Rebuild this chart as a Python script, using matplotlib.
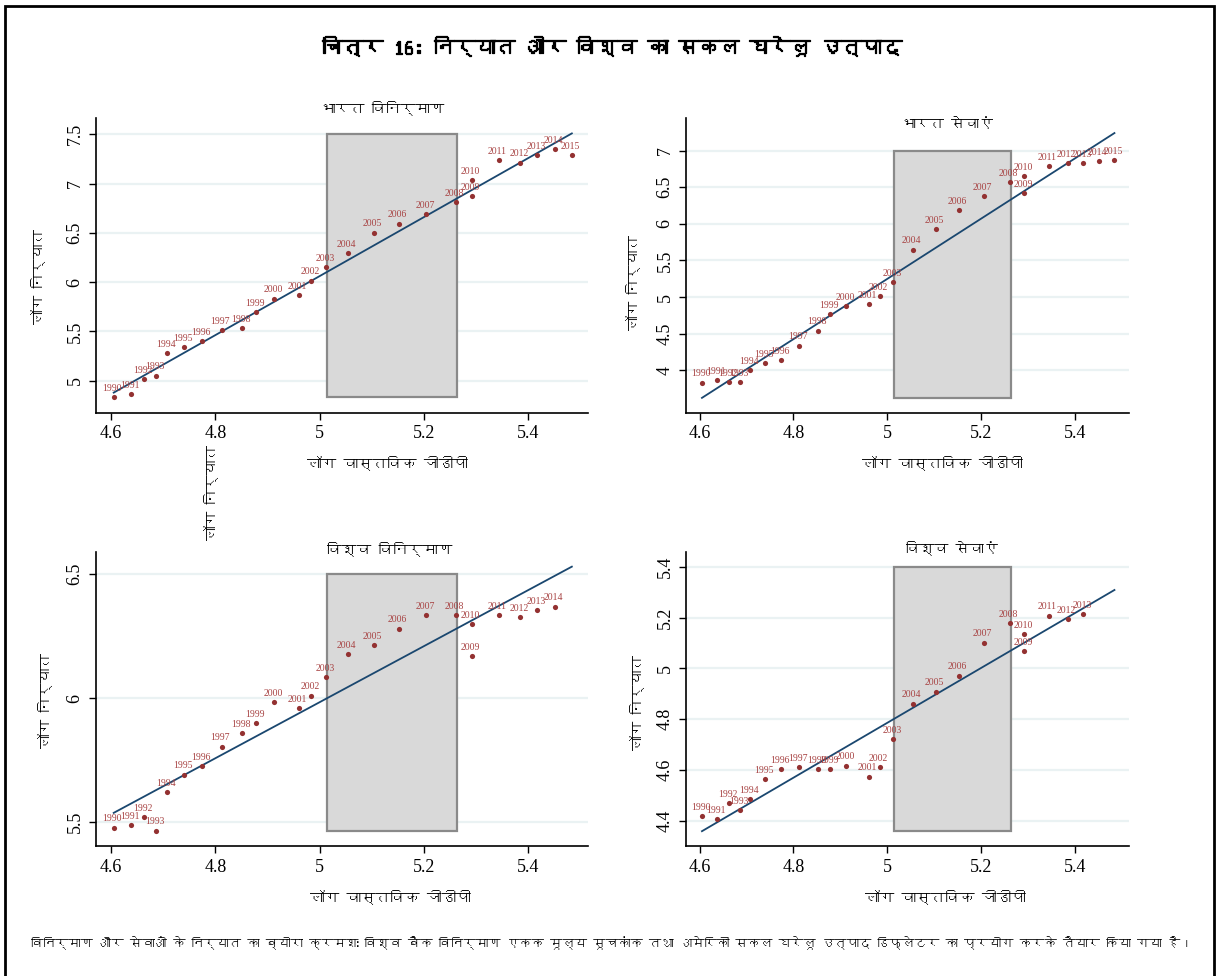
import numpy as np
import matplotlib
matplotlib.use("Agg")
import matplotlib.pyplot as plt
import matplotlib.patheffects as pe
from matplotlib import font_manager
from matplotlib.ft2font import FT2Font
from matplotlib.patches import Rectangle

# data
years = list(range(1990, 2016))
log_gdp = [4.605, 4.638, 4.663, 4.686, 4.708, 4.740, 4.774, 4.812, 4.852, 4.878,
           4.913, 4.960, 4.984, 5.013, 5.054, 5.104, 5.152, 5.205, 5.261, 5.292,
           5.292, 5.344, 5.385, 5.418, 5.451, 5.484]
india_mfg = [4.834, 4.865, 5.014, 5.051, 5.284, 5.342, 5.399, 5.511, 5.534, 5.697,
             5.832, 5.869, 6.015, 6.154, 6.292, 6.502, 6.593, 6.688, 6.813, 6.874,
             7.037, 7.240, 7.212, 7.287, 7.348, 7.287]
india_srv = [3.831, 3.863, 3.836, 3.840, 4.000, 4.096, 4.137, 4.338, 4.543, 4.763,
             4.877, 4.900, 5.014, 5.205, 5.648, 5.932, 6.192, 6.384, 6.571, 6.425,
             6.648, 6.790, 6.826, 6.831, 6.863, 6.868]
world_mfg = [5.478, 5.487, 5.522, 5.466, 5.623, 5.692, 5.728, 5.805, 5.861, 5.899,
             5.985, 5.961, 6.011, 6.086, 6.178, 6.214, 6.281, 6.336, 6.336, 6.171,
             6.300, 6.336, 6.327, 6.355, 6.370]
world_srv = [4.421, 4.409, 4.472, 4.442, 4.485, 4.565, 4.605, 4.611, 4.603, 4.603,
             4.618, 4.575, 4.613, 4.723, 4.862, 4.909, 4.972, 5.102, 5.178, 5.067,
             5.134, 5.208, 5.194, 5.215]

panel_titles = ["भारत विनिर्माण", "भारत सेवाएं", "विश्व विनिर्माण", "विश्व सेवाएं"]
panel_series = [india_mfg, india_srv, world_mfg, world_srv]
panel_yticks = [[5, 5.5, 6, 6.5, 7, 7.5], [4, 4.5, 5, 5.5, 6, 6.5, 7],
                [5.5, 6, 6.5], [4.4, 4.6, 4.8, 5, 5.2, 5.4]]
panel_ylims = [(4.672, 7.665), (3.416, 7.447), (5.404, 6.590), (4.302, 5.458)]
shade_x = (5.014, 5.263)
shade_y = [(4.835, 7.5), (3.626, 7.0), (5.464, 6.5), (4.361, 5.4)]
xticks = [4.6, 4.8, 5, 5.2, 5.4]

main_title = "चित्र 16: निर्यात और विश्व का सकल घरेलू उत्पाद"
xlab = "लॉग वास्तविक जीडीपी"
ylab = "लॉग निर्यात"
note = ("विनिर्माण और सेवाओं के निर्यात का ब्योरा क्रमशः विश्व बैंक विनिर्माण एकक मूल्य "
        "सूचकांक तथा अमेरिकी सकल घरेलू उत्पाद डिफ्लेटर का प्रयोग करके तैयार किया गया है।")


def find_devanagari_font():
    names = []
    for f in font_manager.fontManager.ttflist:
        try:
            if 0x0928 in FT2Font(f.fname).get_charmap():
                names.append(f.name)
        except Exception:
            pass
    return names[0] if names else "DejaVu Sans"


deva = find_devanagari_font()
hindi = [deva, "DejaVu Sans"]
serif = ["Liberation Serif", "DejaVu Serif"]

W, H = 1218, 976
fig = plt.figure(figsize=(W / 100, H / 100), dpi=100)


def px(x, y):
    return x / W, 1 - y / H


# axes boxes in pixels: left, top, right, bottom
boxes = [(96, 118, 588, 413), (686, 118, 1129, 413),
         (96, 552, 588, 846), (686, 552, 1129, 846)]
title_pos = [(383, 108), (947, 125), (390, 549), (952, 548)]
title_w = [91, 67, 93, 68]
xlab_pos = [(387, 463), (942, 463), (390, 897), (945, 897)]
ylab_pos = [(38, 276), (633, 282), (45, 700), (637, 703)]

dot_col = "#933131"
lab_col = "#a84444"
line_col = "#1a476f"

fit_list = []  # (text, target width in px, smallest size)

for i in range(4):
    l, t, r, b = boxes[i]
    ax = fig.add_axes([l / W, 1 - b / H, (r - l) / W, (b - t) / H])
    y = np.array(panel_series[i])
    x = np.array(log_gdp[:len(y)])

    for yt in panel_yticks[i]:
        ax.axhline(yt, color="#eaf2f3", lw=1.6, zorder=0)

    ax.add_patch(Rectangle((shade_x[0], shade_y[i][0]), shade_x[1] - shade_x[0],
                           shade_y[i][1] - shade_y[i][0], facecolor="#d9d9d9",
                           edgecolor="#8a8a8a", lw=1.6, zorder=1))

    # linear fit over the full gdp range
    slope, icpt = np.polyfit(x, y, 1)
    xl = np.array([min(log_gdp), max(log_gdp)])
    ax.plot(xl, icpt + slope * xl, color=line_col, lw=1.3, zorder=3)

    ax.scatter(x, y, s=14, color=dot_col, zorder=4, linewidths=0)
    for yr, xv, yv in zip(years, x, y):
        ax.annotate(str(yr), (xv, yv), xytext=(-1, 3), textcoords="offset points",
                    ha="center", va="bottom", fontsize=7, color=lab_col,
                    family=serif, zorder=5)

    ax.set_xlim(4.571, 5.515)
    ax.set_ylim(*panel_ylims[i])
    ax.set_xticks(xticks)
    ax.set_xticklabels(["%g" % v for v in xticks], family=serif, fontsize=13)
    ax.set_yticks(panel_yticks[i])
    ax.set_yticklabels(["%g" % v for v in panel_yticks[i]], family=serif,
                       fontsize=13, rotation=90, va="center")
    ax.tick_params(direction="out", length=5, width=1, color="black", pad=4)
    for s in ["top", "right"]:
        ax.spines[s].set_visible(False)
    for s in ["left", "bottom"]:
        ax.spines[s].set_linewidth(1.2)
    ax.set_facecolor("none")

    tt = fig.text(*px(*title_pos[i]), panel_titles[i], ha="center", va="center",
                  fontsize=13, family=hindi)
    fit_list.append((tt, title_w[i] * 1.35, 10))
    xt = fig.text(*px(*xlab_pos[i]), xlab, ha="center", va="center",
                  fontsize=13, family=hindi)
    fit_list.append((xt, 150, 10.5))
    yt_ = fig.text(*px(*ylab_pos[i]), ylab, ha="center", va="center", rotation=90,
                   fontsize=13, family=hindi)
    fit_list.append((yt_, 85, 10.5))

# stray label between the left panels, as in the source
st = fig.text(*px(211, 492), ylab, ha="center", va="center", rotation=90,
              fontsize=13, family=hindi)
fit_list.append((st, 85, 10.5))

mt = fig.text(*px(612, 46), main_title, ha="center", va="center", fontsize=19,
              fontweight="bold", family=hindi,
              path_effects=[pe.withStroke(linewidth=0.9, foreground="black")])
fit_list.append((mt, 580, 8))
nt = fig.text(*px(612, 943), note, ha="center", va="center", fontsize=12, family=hindi)
fit_list.append((nt, 1160, 6))

# shrink texts that run wider than in the source
fig.canvas.draw()
rend = fig.canvas.get_renderer()
for txt, target, smallest in fit_list:
    bb = txt.get_window_extent(rend)
    size = max(bb.width, bb.height)
    if size > target:
        txt.set_fontsize(max(smallest, txt.get_fontsize() * target / size))

# outer frame
fig.add_artist(Rectangle(px(5, 990), 1209 / W, 984 / H, transform=fig.transFigure,
                         fill=False, edgecolor="black", lw=2))

fig.savefig("out.png", dpi=100)
